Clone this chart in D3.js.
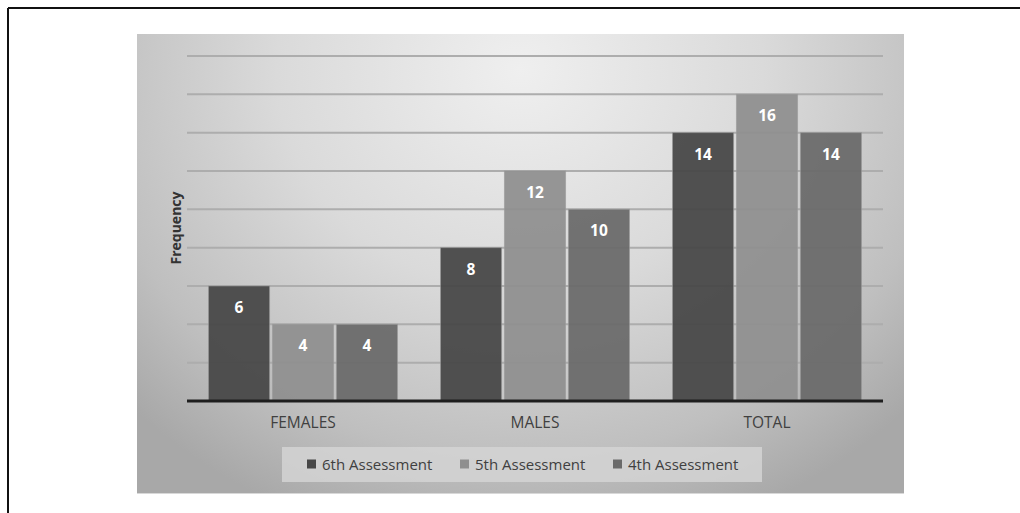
<!DOCTYPE html>
<html>
<head>
<meta charset="utf-8">
<script src="https://cdn.jsdelivr.net/npm/d3@7"></script>
<style>
  html, body { margin: 0; padding: 0; background: #fff; }
  svg { display: block; }
</style>
</head>
<body>
<svg id="chart" width="1020" height="513"></svg>
<script>
// Frequency per group for each assessment round
const categories = ["FEMALES", "MALES", "TOTAL"];
const seriesNames = ["6th Assessment", "5th Assessment", "4th Assessment"];
const sixth = [6, 8, 14];
const fifth = [4, 12, 16];
const fourth = [4, 10, 14];
const yTicks = [0, 2, 4, 6, 8, 10, 12, 14, 16, 18];
const seriesColors = ["#474747", "#8f8f8f", "#6a6a6a"];

const seriesValues = [sixth, fifth, fourth];
const rows = categories.map((c, i) => ({
  category: c,
  values: seriesNames.map((s, j) => ({ series: s, value: seriesValues[j][i], idx: j }))
}));

const svg = d3.select("#chart");
const font = "'Open Sans', 'Liberation Sans', sans-serif";

// Frame lines along the top and left
svg.append("line").attr("x1", 8).attr("x2", 1020).attr("y1", 8).attr("y2", 8)
  .attr("stroke", "#111").attr("stroke-width", 2);
svg.append("line").attr("x1", 8).attr("x2", 8).attr("y1", 8).attr("y2", 513)
  .attr("stroke", "#111").attr("stroke-width", 2);

// Chart panel with shaded background
const defs = svg.append("defs");
const grad = defs.append("radialGradient").attr("id", "panelGrad")
  .attr("gradientUnits", "userSpaceOnUse")
  .attr("cx", 520).attr("cy", 70).attr("r", 540)
  .attr("gradientTransform", "translate(520,70) scale(1,0.9) translate(-520,-70)");
grad.append("stop").attr("offset", "0%").attr("stop-color", "#efefef");
grad.append("stop").attr("offset", "45%").attr("stop-color", "#dadada");
grad.append("stop").attr("offset", "80%").attr("stop-color", "#bfbfbf");
grad.append("stop").attr("offset", "100%").attr("stop-color", "#a8a8a8");

const panel = { x: 137, y: 34, w: 767, h: 459 };
svg.append("rect").attr("x", panel.x).attr("y", panel.y)
  .attr("width", panel.w).attr("height", panel.h)
  .attr("fill", "url(#panelGrad)");
svg.append("line").attr("x1", panel.x).attr("x2", panel.x + panel.w)
  .attr("y1", panel.y + panel.h + 0.5).attr("y2", panel.y + panel.h + 0.5)
  .attr("stroke", "#d8d8d8").attr("stroke-width", 1);

// Plot area
const plot = { left: 187, right: 883, top: 56, bottom: 401 };
const x0 = d3.scaleBand().domain(categories).range([plot.left, plot.right]).paddingInner(0).paddingOuter(0);
const x1 = d3.scaleBand().domain(seriesNames).range([21.5, x0.bandwidth() - 21.5]).paddingInner(0.045).paddingOuter(0);
const y = d3.scaleLinear().domain([0, 18]).range([plot.bottom, plot.top]);

// Horizontal gridlines
const grid = svg.append("g");
grid.selectAll("line").data(yTicks.filter(t => t > 0)).join("line")
  .attr("x1", plot.left).attr("x2", plot.right)
  .attr("y1", d => y(d)).attr("y2", d => y(d))
  .attr("stroke", "#adadad").attr("stroke-width", 2);

// Bars
const groups = svg.append("g").selectAll("g").data(rows).join("g")
  .attr("transform", d => `translate(${x0(d.category)},0)`);

groups.selectAll("rect").data(d => d.values).join("rect")
  .attr("x", d => x1(d.series))
  .attr("y", d => y(d.value))
  .attr("width", x1.bandwidth())
  .attr("height", d => y(0) - y(d.value))
  .attr("fill", d => seriesColors[d.idx])
  .attr("fill-opacity", 0.94)
  .attr("stroke", "#9a9a9a")
  .attr("stroke-opacity", 0.6)
  .attr("stroke-width", 1);

// Value labels
groups.selectAll("text").data(d => d.values).join("text")
  .attr("x", d => x1(d.series) + x1.bandwidth() / 2)
  .attr("y", d => y(d.value) + 21)
  .attr("text-anchor", "middle")
  .attr("dominant-baseline", "central")
  .attr("font-family", font)
  .attr("font-weight", "bold")
  .attr("font-size", 15.5)
  .attr("fill", "#ffffff")
  .text(d => d.value);

// Baseline
svg.append("line").attr("x1", plot.left).attr("x2", plot.right)
  .attr("y1", y(0)).attr("y2", y(0))
  .attr("stroke", "#1e1e1e").attr("stroke-width", 3);

// Category axis
const xAxis = svg.append("g").attr("transform", `translate(0,${y(0)})`)
  .call(d3.axisBottom(x0).tickSize(0).tickPadding(16));
xAxis.select(".domain").remove();
xAxis.selectAll("text")
  .attr("font-family", font).attr("font-size", 15.5).attr("fill", "#404040");

// Y-axis title
svg.append("text")
  .attr("transform", "translate(175,228) rotate(-90)")
  .attr("text-anchor", "middle")
  .attr("dominant-baseline", "central")
  .attr("font-family", font).attr("font-weight", "bold").attr("font-size", 14)
  .attr("fill", "#333")
  .text("Frequency");

// Legend
const legend = svg.append("g");
legend.append("rect").attr("x", 282).attr("y", 447).attr("width", 480).attr("height", 35)
  .attr("fill", "#d3d3d3").attr("fill-opacity", 0.85);
const legendX = [307, 460, 613];
const items = legend.selectAll("g.item").data(seriesNames).join("g").attr("class", "item")
  .attr("transform", (d, i) => `translate(${legendX[i]},464)`);
items.append("rect").attr("x", 0).attr("y", -4.5).attr("width", 9).attr("height", 9)
  .attr("fill", (d, i) => seriesColors[i]);
items.append("text").attr("x", 15).attr("y", 0)
  .attr("dominant-baseline", "central")
  .attr("font-family", font).attr("font-size", 15).attr("fill", "#404040")
  .text(d => d);
</script>
</body>
</html>
